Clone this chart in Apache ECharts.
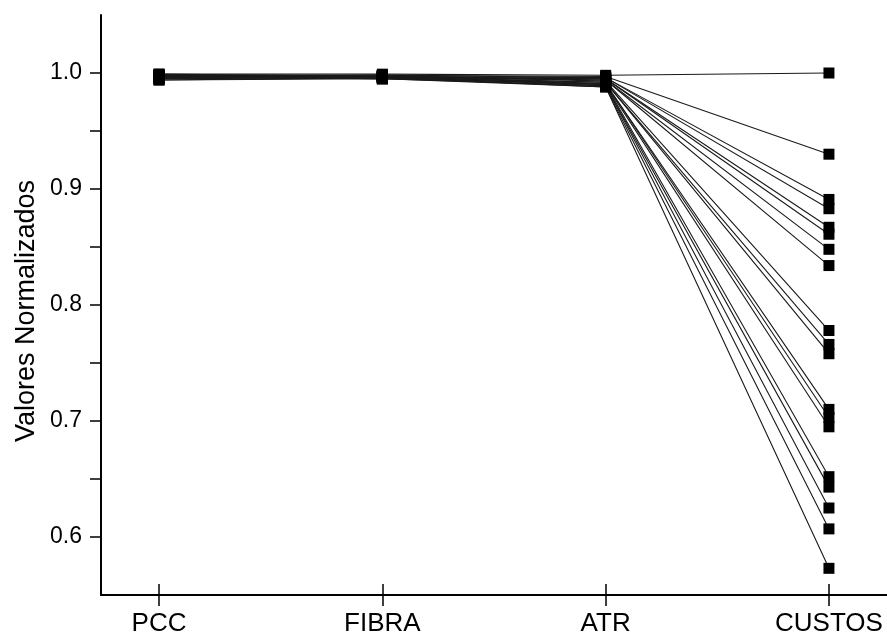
<!DOCTYPE html>
<html>
<head>
<meta charset="utf-8">
<script src="https://cdn.jsdelivr.net/npm/echarts@6/dist/echarts.min.js"></script>
<style>
  html, body { margin: 0; padding: 0; background: #fff; }
  #chart_container { width: 887px; height: 644px; }
</style>
</head>
<body>
<div id="chart_container"></div>
<script>
"use strict";

// criteria along the x axis
const categories = ['PCC', 'FIBRA', 'ATR', 'CUSTOS'];

// one entry per scenario (19 lines)
const pcc    = [0.999, 0.998, 0.998, 0.997, 0.997, 0.996, 0.998, 0.997, 0.996, 0.999, 0.995, 0.997, 0.998, 0.996, 0.994, 0.997, 0.995, 0.996, 0.994];
const fibra  = [0.999, 0.998, 0.997, 0.998, 0.996, 0.997, 0.997, 0.996, 0.998, 0.997, 0.996, 0.995, 0.997, 0.998, 0.996, 0.995, 0.997, 0.996, 0.995];
const atr    = [0.998, 0.997, 0.996, 0.996, 0.995, 0.995, 0.994, 0.994, 0.993, 0.992, 0.992, 0.991, 0.991, 0.990, 0.990, 0.989, 0.989, 0.988, 0.988];
const custos = [1.000, 0.930, 0.891, 0.883, 0.867, 0.861, 0.848, 0.834, 0.778, 0.766, 0.758, 0.710, 0.703, 0.695, 0.652, 0.643, 0.625, 0.607, 0.573];

const yTicks  = [0.6, 0.65, 0.7, 0.75, 0.8, 0.85, 0.9, 0.95, 1.0];
const yLabels = [0.6, 0.7, 0.8, 0.9, 1.0];
const xTicks  = [0, 1, 2, 3];

const font = 'Liberation Sans, Arial, sans-serif';

let series = pcc.map((p, i) => ({
    type: 'line',
    data: [[0, p], [1, fibra[i]], [2, atr[i]], [3, custos[i]]],
    symbol: 'rect',
    symbolSize: 11,
    itemStyle: { color: '#000' },
    lineStyle: { color: '#1a1a1a', width: 1.1 },
    emphasis: { disabled: true },
    silent: true
}));

let xBase = {
    type: 'value',
    min: -0.26,
    max: 3.26,
    position: 'bottom',
    splitLine: { show: false }
};

let option = {
    animation: false,
    backgroundColor: '#fff',
    grid: { left: 101, right: 0, top: 15, bottom: 49 },
    xAxis: [
        Object.assign({}, xBase, {
            axisLine: { show: true, onZero: false, lineStyle: { color: '#000', width: 2 } },
            axisTick: { show: true, customValues: xTicks, length: 11, lineStyle: { color: '#000', width: 1.5 } },
            axisLabel: {
                customValues: xTicks,
                formatter: (v) => categories[Math.round(v)],
                color: '#000', fontFamily: font, fontSize: 26, margin: 16
            }
        }),
        Object.assign({}, xBase, {
            axisLine: { show: false, onZero: false },
            axisTick: { show: true, inside: true, customValues: xTicks, length: 11, lineStyle: { color: '#000', width: 1.5 } },
            axisLabel: { show: false }
        })
    ],
    yAxis: {
        type: 'value',
        min: 0.55,
        max: 1.05,
        splitLine: { show: false },
        axisLine: { show: true, onZero: false, lineStyle: { color: '#000', width: 2 } },
        axisTick: { show: true, customValues: yTicks, length: 11, lineStyle: { color: '#000', width: 1.5 } },
        axisLabel: {
            customValues: yLabels,
            formatter: (v) => v.toFixed(1),
            color: '#000', fontFamily: font, fontSize: 23, margin: 19
        }
    },
    graphic: [{
        type: 'text',
        left: 13,
        top: 180,
        rotation: Math.PI / 2,
        style: {
            text: 'Valores Normalizados',
            fill: '#000',
            font: '27px ' + font
        }
    }],
    series: series
};

let chartDom = document.getElementById('chart_container');
let myChart = echarts.init(chartDom, null, { renderer: 'canvas' });
myChart.setOption(option);
</script>
</body>
</html>
